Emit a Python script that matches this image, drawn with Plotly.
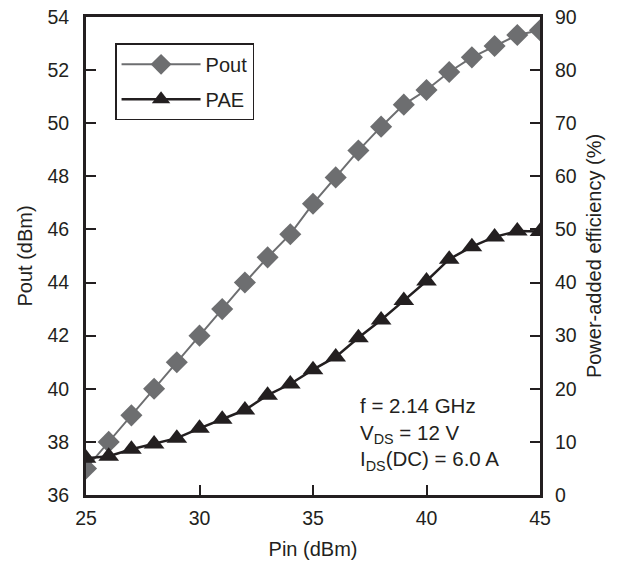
import plotly.graph_objects as go

pin = [25, 26, 27, 28, 29, 30, 31, 32, 33, 34, 35, 36, 37, 38, 39, 40, 41, 42, 43, 44, 45]
pout = [37.0, 38.0, 39.0, 40.0, 41.0, 42.0, 43.0, 44.0, 44.95, 45.82, 46.97, 47.96, 48.97, 49.87, 50.7, 51.25, 51.93, 52.48, 52.91, 53.32, 53.5]
pae = [6.9, 7.3, 8.6, 9.6, 10.7, 12.55, 14.25, 16.0, 18.8, 20.9, 23.6, 26.0, 29.6, 32.95, 36.6, 40.3, 44.4, 46.75, 48.6, 49.7, 49.6]

gray = "#6d6e70"
black = "#231f20"
font = "Liberation Sans, Arial, sans-serif"

fig = go.Figure()
fig.add_trace(go.Scatter(
    x=pin, y=pout, name="Pout", mode="lines+markers", legendgroup="a",
    line=dict(color=gray, width=2),
    marker=dict(symbol="diamond", size=17, color=gray),
))
fig.add_trace(go.Scatter(
    x=pin, y=pae, name="PAE", mode="lines+markers", yaxis="y2", legendgroup="b",
    line=dict(color=black, width=2.5),
    marker=dict(symbol="triangle-up", size=18, color=black),
))

axis_common = dict(
    showgrid=False, zeroline=False, ticks="inside", ticklen=10, tickwidth=1.5,
    tickcolor=black, linecolor=black, linewidth=3, showline=True,
    automargin=False,
    tickfont=dict(size=19.5, color=black, family=font),
)

fig.update_layout(
    width=619, height=561,
    margin=dict(l=86, r=79, t=17, b=66),
    paper_bgcolor="white", plot_bgcolor="white",
    font=dict(family=font, size=20, color=black),
    showlegend=True,
    legend=dict(
        x=0.064, y=0.945, xanchor="left", yanchor="top",
        bordercolor=black, borderwidth=1.5, bgcolor="white",
        font=dict(size=20, color=black, family=font),
        itemwidth=79, tracegroupgap=6,
    ),
    xaxis=dict(
        range=[25, 45], dtick=5, tick0=25, mirror=True,
        ticklabelstandoff=4,
        title=dict(text="Pin (dBm)", font=dict(size=20, color=black), standoff=14),
        **axis_common,
    ),
    yaxis=dict(
        range=[36, 54], dtick=2, tick0=36,
        ticklabelstandoff=10,
        title=dict(text="Pout (dBm)", font=dict(size=20, color=black), standoff=10),
        **axis_common,
    ),
    yaxis2=dict(
        range=[0, 90], dtick=10, tick0=0, overlaying="y", side="right",
        ticklabelstandoff=8,
        title=dict(text="Power-added efficiency (%)", font=dict(size=20, color=black), standoff=12),
        **axis_common,
    ),
    annotations=[
        dict(
            xref="x", yref="y2", x=37.0, y=3.6,
            xanchor="left", yanchor="bottom", align="left", showarrow=False,
            text="f = 2.14 GHz<br>V<sub>DS</sub> = 12 V<br>I<sub>DS</sub>(DC) = 6.0 A",
            font=dict(size=20.5, color=black, family=font),
        )
    ],
)

fig.write_html("out.html")
